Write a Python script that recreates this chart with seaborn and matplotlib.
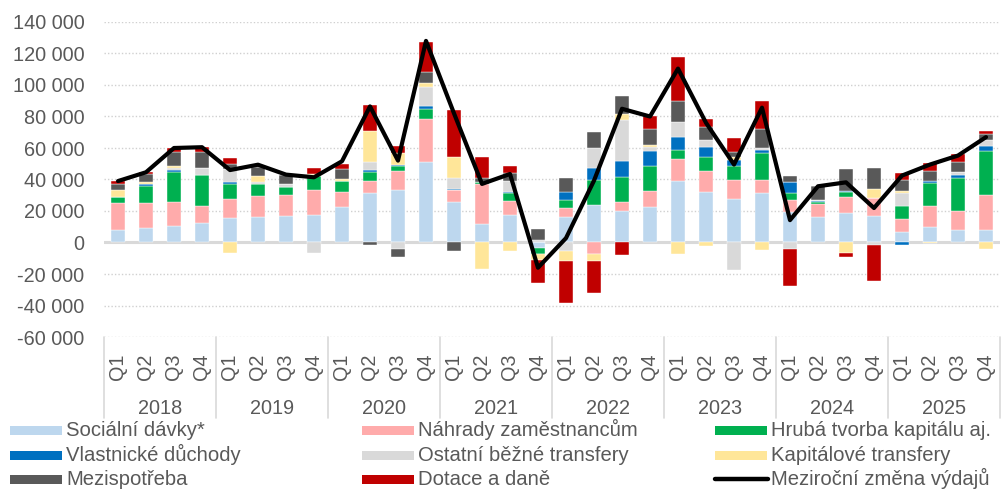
import numpy as np
import pandas as pd
import matplotlib
matplotlib.use("Agg")
import matplotlib.pyplot as plt
import matplotlib.transforms as mtransforms
from matplotlib.patches import Rectangle
from matplotlib.lines import Line2D
from matplotlib.ticker import FuncFormatter
import seaborn as sns

# data (CZK mil., y/y change by component)
years = ["2018", "2019", "2020", "2021", "2022", "2023", "2024", "2025"]
quarters = ["Q1", "Q2", "Q3", "Q4"]

socialni = [8100, 8900, 10400, 12500, 15500, 16100, 17000, 17400,
            22700, 31400, 33100, 51400, 25900, 11700, 17600, -3800,
            15900, 23800, 20200, 22300, 38900, 32100, 27800, 31400,
            19100, 15900, 18900, 17000, 6400, 9800, 7900, 7900]
nahrady = [16800, 15900, 15100, 10800, 12300, 13600, 13200, 16100,
           9600, 7900, 12500, 26700, 7600, 25500, 8900, 0,
           5900, -7400, 5300, 10200, 13800, 13600, 12100, 8500,
           8100, 8500, 9800, 11300, 8300, 13400, 12300, 22300]
hruba = [3800, 11200, 19100, 19700, 9300, 7600, 4900, 8500,
         7000, 5700, 3000, 6800, 0, 1500, 5100, -3200,
         5100, 15900, 16300, 16100, 5900, 8700, 8900, 16800,
         4200, 1500, 3200, 0, 8500, 14600, 20800, 27800]
vlastnicke = [0, 1000, 1300, 0, 1500, 0, 0, 0,
              0, 1100, 400, 1700, 600, 0, 400, 600,
              5300, 7900, 10200, 9600, 8300, 6200, 3800, 2300,
              7200, 600, 800, 0, -1500, 1300, 1900, 3000]
ostatni = [0, 0, 1700, 4000, 8100, 1000, 1900, -6400,
           0, 5300, -4000, 12100, 6600, 0, 7200, 1000,
           -5300, 12300, 25500, 2300, 9600, 4200, -17200, 1300,
           -4000, 800, 0, -1500, 8100, 0, 1900, 3800]
kapitalove = [4500, 1500, 1000, 0, -6600, 4200, 0, 1500,
              1000, 19700, 7600, 2500, 13400, -16800, -5100, -3800,
              -6400, -4200, 3800, 1700, -7200, -2100, 1500, -4500,
              0, 0, -6600, 5700, 1500, -500, 0, -4000]
mezispotreba = [3800, 4900, 8700, 10600, 3200, 5700, 5900, 0,
                6200, -1500, -4900, 7200, -5500, 2300, 4700, 7000,
                8700, 10000, 11700, 10000, 13400, 8500, 3200, 11900,
                3600, 8300, 14000, 13000, 6600, 6200, 6200, 4200]
dotace = [1900, 1300, 2800, 2800, 3600, 1000, 0, 3600,
          3400, 16100, 4900, 18700, 30100, 13200, 4500, -14600,
          -26500, -20200, -7900, 7900, 28000, 5100, 9100, 17600,
          -23800, 0, -2500, -22900, 4900, 5300, 4900, 1700]
zmena = [39000, 44600, 60000, 60500, 46000, 49400, 43100, 41400,
         51600, 86400, 52000, 128000, 82000, 37200, 43500, -16000,
         2800, 39300, 84900, 80000, 110400, 76000, 49500, 85600,
         14200, 35700, 38200, 21900, 42500, 49500, 55200, 66900]

series = [
    ("Sociální dávky*", socialni, "#BDD7EE"),
    ("Náhrady zaměstnancům", nahrady, "#FFABAB"),
    ("Hrubá tvorba kapitálu aj.", hruba, "#00B050"),
    ("Vlastnické důchody", vlastnicke, "#0070C0"),
    ("Ostatní běžné transfery", ostatni, "#D9D9D9"),
    ("Kapitálové transfery", kapitalove, "#FFE699"),
    ("Mezispotřeba", mezispotreba, "#595959"),
    ("Dotace a daně", dotace, "#C00000"),
]
line_label = "Meziroční změna výdajů"

sns.set_style("white")
plt.rcParams["font.family"] = ["Liberation Sans", "DejaVu Sans"]
txt = "#595959"
W, H = 1003, 490

fig = plt.figure(figsize=(W / 100, H / 100), dpi=100)
ax = fig.add_axes([104 / W, 1 - 337 / H, 896 / W, 315 / H])

x = np.arange(len(zmena))
pos_base = np.zeros(len(x))
neg_base = np.zeros(len(x))
for name, vals, col in series:
    v = np.array(vals, dtype=float)
    bottom = np.where(v >= 0, pos_base, neg_base)
    ax.bar(x, v, bottom=bottom, width=0.52, color=col,
           edgecolor="white", linewidth=0.3, zorder=3)
    pos_base += np.where(v >= 0, v, 0)
    neg_base += np.where(v < 0, v, 0)

df = pd.DataFrame({"x": x, "zmena": zmena})
sns.lineplot(data=df, x="x", y="zmena", color="black", lw=3, ax=ax,
             zorder=5, legend=False)

ax.set_xlim(-0.5, len(x) - 0.5)
ax.set_ylim(-60000, 140000)
ax.set_yticks(np.arange(-60000, 140001, 20000))
ax.yaxis.set_major_formatter(FuncFormatter(lambda v, p: f"{int(v):,}".replace(",", " ")))
ax.yaxis.grid(True, linestyle=(0, (1, 1.5)), color="#D0D0D0", lw=1, zorder=0)
ax.axhline(0, color="#D9D9D9", lw=2.2, zorder=2)
for s in ax.spines.values():
    s.set_visible(False)
ax.set_xlabel("")
ax.set_ylabel("")

ax.set_xticks(x)
ax.set_xticklabels(quarters * len(years), rotation=90)
ax.tick_params(axis="x", length=0, pad=12, labelsize=14.3, labelcolor=txt)
ax.tick_params(axis="y", length=0, pad=14, labelsize=14.3, labelcolor=txt)

trans = mtransforms.blended_transform_factory(ax.transData, ax.transAxes)
for i, yr in enumerate(years):
    ax.text(i * 4 + 1.5, -0.226, yr, transform=trans, ha="center", va="center",
            fontsize=14.3, color=txt)
for k in range(len(years) + 1):
    ax.add_line(Line2D([k * 4 - 0.5, k * 4 - 0.5], [0, -0.257], transform=trans,
                       color="#D9D9D9", lw=1.2, clip_on=False))

# legend: 3 x 3 grid, row by row like the original
entries = [(n, c) for n, _, c in series] + [(line_label, None)]
col_x = [10, 362, 715]
row_base = [436, 461, 485]
for k, (name, col) in enumerate(entries):
    r, c = divmod(k, 3)
    x0, yb = col_x[c], row_base[r]
    if col is None:
        fig.add_artist(Line2D([x0 / W, (x0 + 53) / W], [1 - (yb - 6) / H] * 2,
                              color="black", lw=3.2))
    else:
        fig.add_artist(Rectangle((x0 / W, 1 - (yb - 1) / H), 52 / W, 9.5 / H,
                                 facecolor=col, edgecolor="none"))
    fig.text((x0 + 56.5) / W, 1 - yb / H, name, ha="left", va="baseline",
             fontsize=14.6, color=txt)

fig.savefig("out.png", dpi=100)
